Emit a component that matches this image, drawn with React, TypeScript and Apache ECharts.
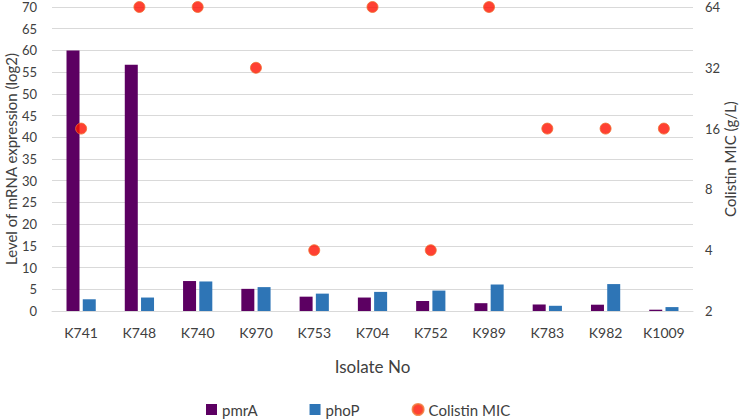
import React, { useEffect, useRef } from "react";
import * as echarts from "echarts";

const categories = ["K741", "K748", "K740", "K970", "K753", "K704", "K752", "K989", "K783", "K982", "K1009"];
const pmrA = [60, 56.7, 6.9, 5.1, 3.3, 3.1, 2.3, 1.8, 1.5, 1.45, 0.3];
const phoP = [2.7, 3.1, 6.8, 5.5, 4.0, 4.4, 4.7, 6.1, 1.2, 6.2, 0.9];
const colistinMIC = [16, 64, 64, 32, 4, 64, 4, 64, 16, 16, 16];

const FONT = "Lato, 'Open Sans', sans-serif";

export default function App() {
  const ref = useRef<HTMLDivElement>(null);
  useEffect(() => {
    if (!ref.current) return;
    const chart = echarts.init(ref.current, undefined, { renderer: "svg" });
    chart.setOption({
      animation: false,
      textStyle: { fontFamily: FONT },
      grid: { left: 52, right: 57, top: 7, bottom: 109, containLabel: false, outerBoundsMode: "none" },
      legend: {
        left: 201,
        top: 397,
        itemGap: 52,
        itemWidth: 11,
        itemHeight: 11,
        textStyle: { fontSize: 15, color: "#404040", fontFamily: FONT },
        data: [
          { name: "pmrA", icon: "rect" },
          { name: "phoP", icon: "rect" },
          { name: "Colistin MIC", icon: "circle" },
        ],
      },
      xAxis: {
        type: "category",
        data: categories,
        name: "Isolate No",
        nameLocation: "middle",
        nameGap: 47,
        nameMoveOverlap: false,
        nameTextStyle: { fontSize: 17, color: "#404040" },
        axisLine: { lineStyle: { color: "#d9d9d9" } },
        axisTick: { show: false },
        axisLabel: { fontSize: 14, color: "#404040", margin: 14 },
      },
      yAxis: [
        {
          type: "value",
          min: 0,
          max: 70,
          interval: 5,
          name: "Level of mRNA expression (log2)",
          nameLocation: "middle",
          nameGap: 34,
          nameMoveOverlap: false,
          nameRotate: 90,
          nameTextStyle: { fontSize: 15, color: "#404040" },
          axisLine: { show: false },
          axisTick: { show: false },
          axisLabel: { fontSize: 13, color: "#404040", margin: 15 },
          splitLine: { lineStyle: { color: "#d9d9d9", width: 1 } },
        },
        {
          type: "log",
          logBase: 2,
          min: 2,
          max: 64,
          name: "Colistin MIC (g/L)",
          nameLocation: "middle",
          nameGap: 29,
          nameMoveOverlap: false,
          nameRotate: 90,
          nameTextStyle: { fontSize: 15, color: "#404040" },
          axisLine: { show: false },
          axisTick: { show: false },
          axisLabel: { fontSize: 13, color: "#404040", margin: 12 },
          splitLine: { show: false },
        },
      ],
      series: [
        {
          name: "pmrA",
          type: "bar",
          data: pmrA,
          barWidth: 13,
          barGap: "25%",
          itemStyle: { color: "#5C0062" },
        },
        {
          name: "phoP",
          type: "bar",
          data: phoP,
          barWidth: 13,
          barGap: "25%",
          itemStyle: { color: "#2E75B6" },
        },
        {
          name: "Colistin MIC",
          type: "scatter",
          yAxisIndex: 1,
          data: colistinMIC,
          symbol: "circle",
          symbolSize: 11,
          z: 5,
          itemStyle: { color: "#FF1000", borderColor: "#F07030", borderWidth: 1 },
        },
      ],
    });
    return () => chart.dispose();
  }, []);
  return <div ref={ref} style={{ width: 750, height: 420, position: "absolute", left: 0, top: 0 }} />;
}
